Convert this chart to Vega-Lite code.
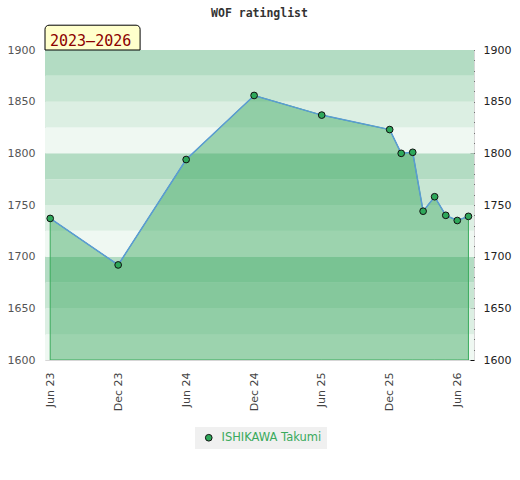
{
  "$schema": "https://vega.github.io/schema/vega-lite/v6.json",
  "width": 429,
  "height": 310,
  "autosize": "none",
  "padding": {"left": 45, "top": 50, "right": 46, "bottom": 120},
  "background": "white",
  "config": {"view": {"stroke": "#d6d6d6", "strokeWidth": 1}, "font": "DejaVu Sans"},
  "title": {"text": "WOF ratinglist", "font": "DejaVu Sans Mono", "fontSize": 11.5, "fontWeight": "bold", "color": "#333333", "anchor": "middle", "offset": 5},
  "datasets": {
    "ratings": [
      {"date": "2023-06-01", "rating": 1737, "player": "ISHIKAWA Takumi"},
      {"date": "2023-12-01", "rating": 1692, "player": "ISHIKAWA Takumi"},
      {"date": "2024-06-01", "rating": 1794, "player": "ISHIKAWA Takumi"},
      {"date": "2024-12-01", "rating": 1856, "player": "ISHIKAWA Takumi"},
      {"date": "2025-06-01", "rating": 1837, "player": "ISHIKAWA Takumi"},
      {"date": "2025-12-01", "rating": 1823, "player": "ISHIKAWA Takumi"},
      {"date": "2026-01-01", "rating": 1800, "player": "ISHIKAWA Takumi"},
      {"date": "2026-02-01", "rating": 1801, "player": "ISHIKAWA Takumi"},
      {"date": "2026-03-01", "rating": 1744, "player": "ISHIKAWA Takumi"},
      {"date": "2026-04-01", "rating": 1758, "player": "ISHIKAWA Takumi"},
      {"date": "2026-05-01", "rating": 1740, "player": "ISHIKAWA Takumi"},
      {"date": "2026-06-01", "rating": 1735, "player": "ISHIKAWA Takumi"},
      {"date": "2026-07-01", "rating": 1739, "player": "ISHIKAWA Takumi"}
    ],
    "bands": [
      {"lo": 1600, "hi": 1625, "shade": "a"},
      {"lo": 1625, "hi": 1650, "shade": "b"},
      {"lo": 1650, "hi": 1675, "shade": "c"},
      {"lo": 1675, "hi": 1700, "shade": "d"},
      {"lo": 1700, "hi": 1725, "shade": "a"},
      {"lo": 1725, "hi": 1750, "shade": "b"},
      {"lo": 1750, "hi": 1775, "shade": "c"},
      {"lo": 1775, "hi": 1800, "shade": "d"},
      {"lo": 1800, "hi": 1825, "shade": "a"},
      {"lo": 1825, "hi": 1850, "shade": "b"},
      {"lo": 1850, "hi": 1875, "shade": "c"},
      {"lo": 1875, "hi": 1900, "shade": "d"}
    ]
  },
  "data": {"name": "ratings"},
  "resolve": {"axis": {"x": "independent", "y": "independent"}},
  "layer": [
    {
      "data": {"name": "bands"},
      "mark": {"type": "rect"},
      "encoding": {
        "y": {"field": "lo", "type": "quantitative",
          "scale": {"domain": [1600, 1900], "zero": false, "nice": false},
          "axis": {"orient": "left", "values": [1600, 1650, 1700, 1750, 1800, 1850, 1900], "format": "d", "ticks": false, "domain": false, "grid": false, "labelColor": "#555555", "labelFontSize": 11, "labelPadding": 10, "title": null, "labelOverlap": false}},
        "y2": {"field": "hi"},
        "fill": {"field": "shade", "type": "nominal", "scale": {"domain": ["a", "b", "c", "d"], "range": ["#eff8f2", "#dcefe3", "#c8e6d3", "#b3dcc3"]}, "legend": null}
      }
    },
    {
      "mark": {"type": "area", "fill": "#28a050", "fillOpacity": 0.42, "stroke": "#3aaa5c", "strokeWidth": 1, "clip": true},
      "encoding": {
        "x": {"field": "date", "type": "temporal",
          "scale": {"type": "utc", "domain": [{"year": 2023, "month": 5, "date": 18, "utc": true}, {"year": 2026, "month": 7, "date": 16, "utc": true}]},
          "axis": {"values": [
            {"year": 2023, "month": 6, "date": 1, "utc": true},
            {"year": 2023, "month": 12, "date": 1, "utc": true},
            {"year": 2024, "month": 6, "date": 1, "utc": true},
            {"year": 2024, "month": 12, "date": 1, "utc": true},
            {"year": 2025, "month": 6, "date": 1, "utc": true},
            {"year": 2025, "month": 12, "date": 1, "utc": true},
            {"year": 2026, "month": 6, "date": 1, "utc": true}],
            "format": "%b %y", "labelAngle": 270, "ticks": false, "domain": false, "grid": false, "labelPadding": 12, "labelColor": "#444444", "labelFontSize": 11, "title": null, "labelOverlap": false, "labelFlush": false}},
        "y": {"field": "rating", "type": "quantitative",
          "scale": {"domain": [1600, 1900], "zero": false, "nice": false},
          "axis": {"orient": "right", "values": [1600, 1610, 1620, 1630, 1640, 1650, 1660, 1670, 1680, 1690, 1700, 1710, 1720, 1730, 1740, 1750, 1760, 1770, 1780, 1790, 1800, 1810, 1820, 1830, 1840, 1850, 1860, 1870, 1880, 1890, 1900],
            "format": "d", "labelExpr": "datum.value % 50 === 0 ? datum.label : ''", "tickSize": -4, "tickColor": "#111111", "labelPadding": 13, "domain": false, "grid": false, "labelColor": "#222222", "labelFontSize": 11, "title": null, "labelOverlap": false}},
        "y2": {"datum": 1600}
      }
    },
    {
      "mark": {"type": "line", "color": "#5b9bd5", "strokeWidth": 1.5},
      "encoding": {
        "x": {"field": "date", "type": "temporal", "axis": null},
        "y": {"field": "rating", "type": "quantitative", "axis": null}
      }
    },
    {
      "mark": {"type": "point", "filled": true, "stroke": "#111111", "strokeWidth": 1, "size": 45, "opacity": 1},
      "encoding": {
        "x": {"field": "date", "type": "temporal", "axis": null},
        "y": {"field": "rating", "type": "quantitative", "axis": null},
        "color": {"field": "player", "type": "nominal", "scale": {"range": ["#2ea85a"]},
          "legend": {"title": null, "orient": "none", "legendX": 150, "legendY": 377, "fillColor": "#f0f0f0", "padding": 5, "labelColor": "#3aaa5c", "labelFontSize": 11.5, "labelFont": "DejaVu Sans", "symbolType": "circle", "symbolSize": 45, "symbolStrokeColor": "#111111", "symbolStrokeWidth": 1, "symbolOffset": 3, "labelOffset": 7}}
      }
    },
    {
      "data": {"values": [{}]},
      "mark": {"type": "rect", "fill": "#ffffcc", "stroke": "#000000", "strokeWidth": 1, "cornerRadiusTopLeft": 4, "cornerRadiusTopRight": 4},
      "encoding": {
        "x": {"datum": {"year": 2023, "month": 5, "date": 18, "utc": true}, "type": "temporal", "axis": null},
        "x2": {"datum": {"year": 2024, "month": 1, "date": 29, "utc": true}},
        "y": {"datum": 1900, "type": "quantitative", "axis": null},
        "y2": {"datum": 1924}
      }
    },
    {
      "data": {"values": [{"label": "2023–2026"}]},
      "mark": {"type": "text", "font": "DejaVu Sans Mono", "fontSize": 15, "color": "#8b0000", "align": "left", "baseline": "alphabetic", "dx": 5},
      "encoding": {
        "x": {"datum": {"year": 2023, "month": 5, "date": 18, "utc": true}, "type": "temporal", "axis": null},
        "y": {"datum": 1904, "type": "quantitative", "axis": null},
        "text": {"field": "label"}
      }
    }
  ]
}
